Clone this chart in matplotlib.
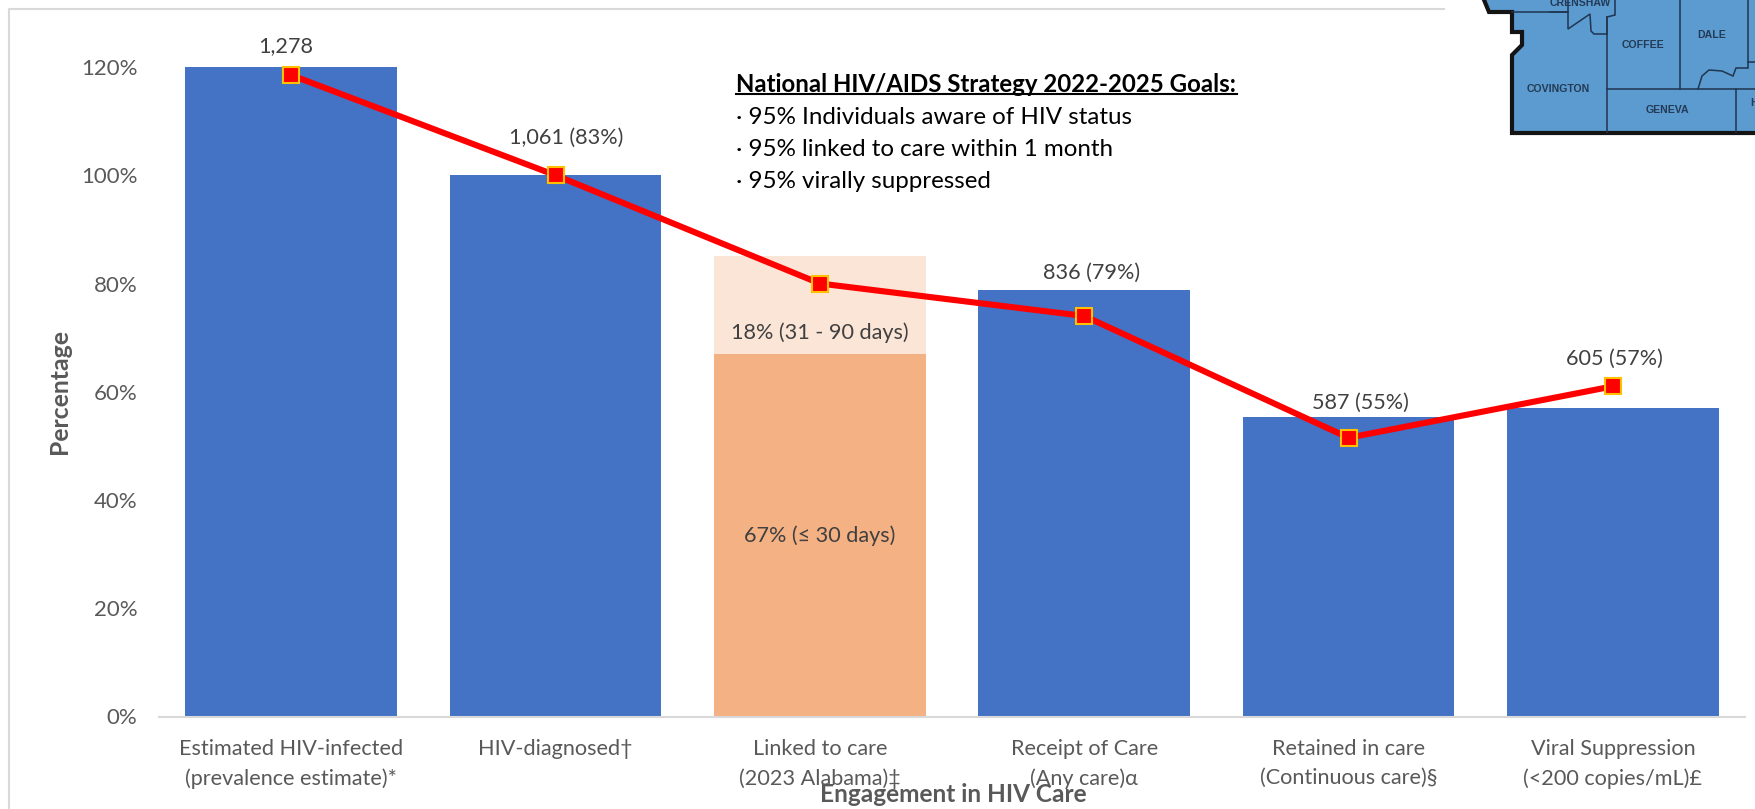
import matplotlib
matplotlib.use("Agg")
import matplotlib.pyplot as plt
from matplotlib.patches import Polygon

plt.rcParams['font.family'] = ['Lato', 'DejaVu Sans']

W, H = 1756, 809

categories = ["Estimated HIV-infected\n(prevalence estimate)*", "HIV-diagnosed†\n ", "Linked to care\n(2023 Alabama)‡",
              "Receipt of Care\n(Any care)α", "Retained in care\n(Continuous care)§", "Viral Suppression\n(<200 copies/mL)£"]
bar_values = [120, 100, 0, 78.8, 55.3, 57]
linked_30 = 67
linked_90 = 18
line_values = [118.5, 100, 80, 74, 51.5, 61]
yticks = [0, 20, 40, 60, 80, 100, 120]

GRAY = "#595959"
LABEL = "#404040"

fig = plt.figure(figsize=(W / 100, H / 100), dpi=100, facecolor="white")


def px(x, y):
    return x / W, 1 - y / H


# outer chart frame
fig.add_artist(plt.Line2D([9 / W, 9 / W, 1444 / W], [0, 1 - 9 / H, 1 - 9 / H], color="#D9D9D9", lw=1.5))

ax = fig.add_axes([159 / W, 1 - 716.5 / H, (1745 - 159) / W, (716.5 - 67) / H])
ax.patch.set_alpha(0)
x = range(6)
ax.bar(x, bar_values, width=0.8, color="#4472C4", zorder=2)
ax.bar([2], [linked_30], width=0.8, color="#F4B183", zorder=2)
ax.bar([2], [linked_90], bottom=[linked_30], width=0.8, color="#FBE5D6", zorder=2)
ax.plot(x, line_values, color="#FF0000", lw=4.4, marker="s", ms=11, mfc="#FF0000", mec="#FFC000", mew=1.5,
        zorder=4, clip_on=False, solid_joinstyle="round")
ax.set_xlim(-0.5, 5.5)
ax.set_ylim(0, 120)
ax.set_yticks(yticks)
ax.set_yticklabels([f"{v}%" for v in yticks], fontsize=16, color=GRAY)
ax.set_xticks(list(x))
ax.set_xticklabels(categories, fontsize=15.6, color=GRAY, linespacing=1.55)
ax.tick_params(axis="both", length=0)
ax.tick_params(axis="y", pad=15.5)
ax.tick_params(axis="x", pad=16.5)
for s in ["top", "right", "left"]:
    ax.spines[s].set_visible(False)
ax.spines["bottom"].set_color("#D9D9D9")
ax.spines["bottom"].set_linewidth(1.5)

# axis titles
fig.text(*px(953, 794), "Engagement in HIV Care", fontsize=17.6, fontweight="bold", color=GRAY, ha="center", va="center")
fig.text(*px(60, 391), "Percentage", fontsize=17.8, fontweight="bold", color=GRAY, rotation=90, ha="center", va="center")

# data labels
labels = [("1,278", 286, 46), ("1,061 (83%)", 566, 138), ("836 (79%)", 1092, 273), ("587 (55%)", 1360, 403),
          ("605 (57%)", 1614, 359), ("18% (31 - 90 days)", 820, 333), ("67% (≤ 30 days)", 820, 536)]
for t, lx, ly in labels:
    fig.text(*px(lx, ly), t, fontsize=15.6, color=LABEL, ha="center", va="center", zorder=6)

# goals box
fig.text(*px(736, 85), "National HIV/AIDS Strategy 2022-2025 Goals:", fontsize=17.3, fontweight="bold", color="black",
         ha="left", va="center")
fig.add_artist(plt.Line2D([736 / W, 1237 / W], [1 - 94 / H] * 2, color="black", lw=1.5))
goals = ["· 95% Individuals aware of HIV status", "· 95% linked to care within 1 month", "· 95% virally suppressed"]
for t, ly in zip(goals, [117, 149, 181]):
    fig.text(*px(736, ly), t, fontsize=17.4, color="black", ha="left", va="center")

# map inset (pixel coordinates)
mp = fig.add_axes([0, 0, 1, 1], zorder=10)
mp.set_xlim(0, W)
mp.set_ylim(H, 0)
mp.axis("off")
mp.patch.set_alpha(0)
outline = [(1482, -5), (1489, 12), (1512, 12), (1512, 32), (1522, 32), (1522, 45), (1512, 55), (1512, 133), (1760, 133), (1760, -5)]
mp.add_patch(Polygon(outline, closed=False, fc="#5B9BD0", ec="none"))
mp.plot([p[0] for p in outline[:-2]] + [1760], [p[1] for p in outline[:-2]] + [133], color="#141414", lw=3, solid_joinstyle="miter")
borders = [
    [(1512, 12), (1550, 12), (1568, 12), (1568, -2)],
    [(1550, 12), (1568, 12), (1568, 29), (1590, 14), (1591, 31), (1594, 34), (1607, 34), (1607, 17), (1615, 15), (1615, -2)],
    [(1607, 17), (1607, 132)],
    [(1607, 89), (1736, 89), (1736, 132)],
    [(1680, -2), (1680, 89)],
    [(1698, 89), (1702, 76), (1709, 70), (1722, 71), (1733, 76), (1736, 68), (1748, 68), (1748, 62), (1760, 62)],
    [(1748, -2), (1748, 62)],
    [(1736, 89), (1760, 89)],
]
for b in borders:
    mp.plot([p[0] for p in b], [p[1] for p in b], color="#1F3550", lw=1.1, solid_joinstyle="miter")
counties = [("CRENSHAW", 1580, 3), ("COFFEE", 1643, 45), ("DALE", 1712, 35), ("COVINGTON", 1558, 89), ("GENEVA", 1667, 110), ("H", 1754, 103)]
for t, cx, cy in counties:
    mp.text(cx, cy, t, fontsize=7.6, fontweight="bold", color="#243A55", ha="center", va="center",
            family="Liberation Sans", clip_on=True)

fig.savefig("out.png", dpi=100)
